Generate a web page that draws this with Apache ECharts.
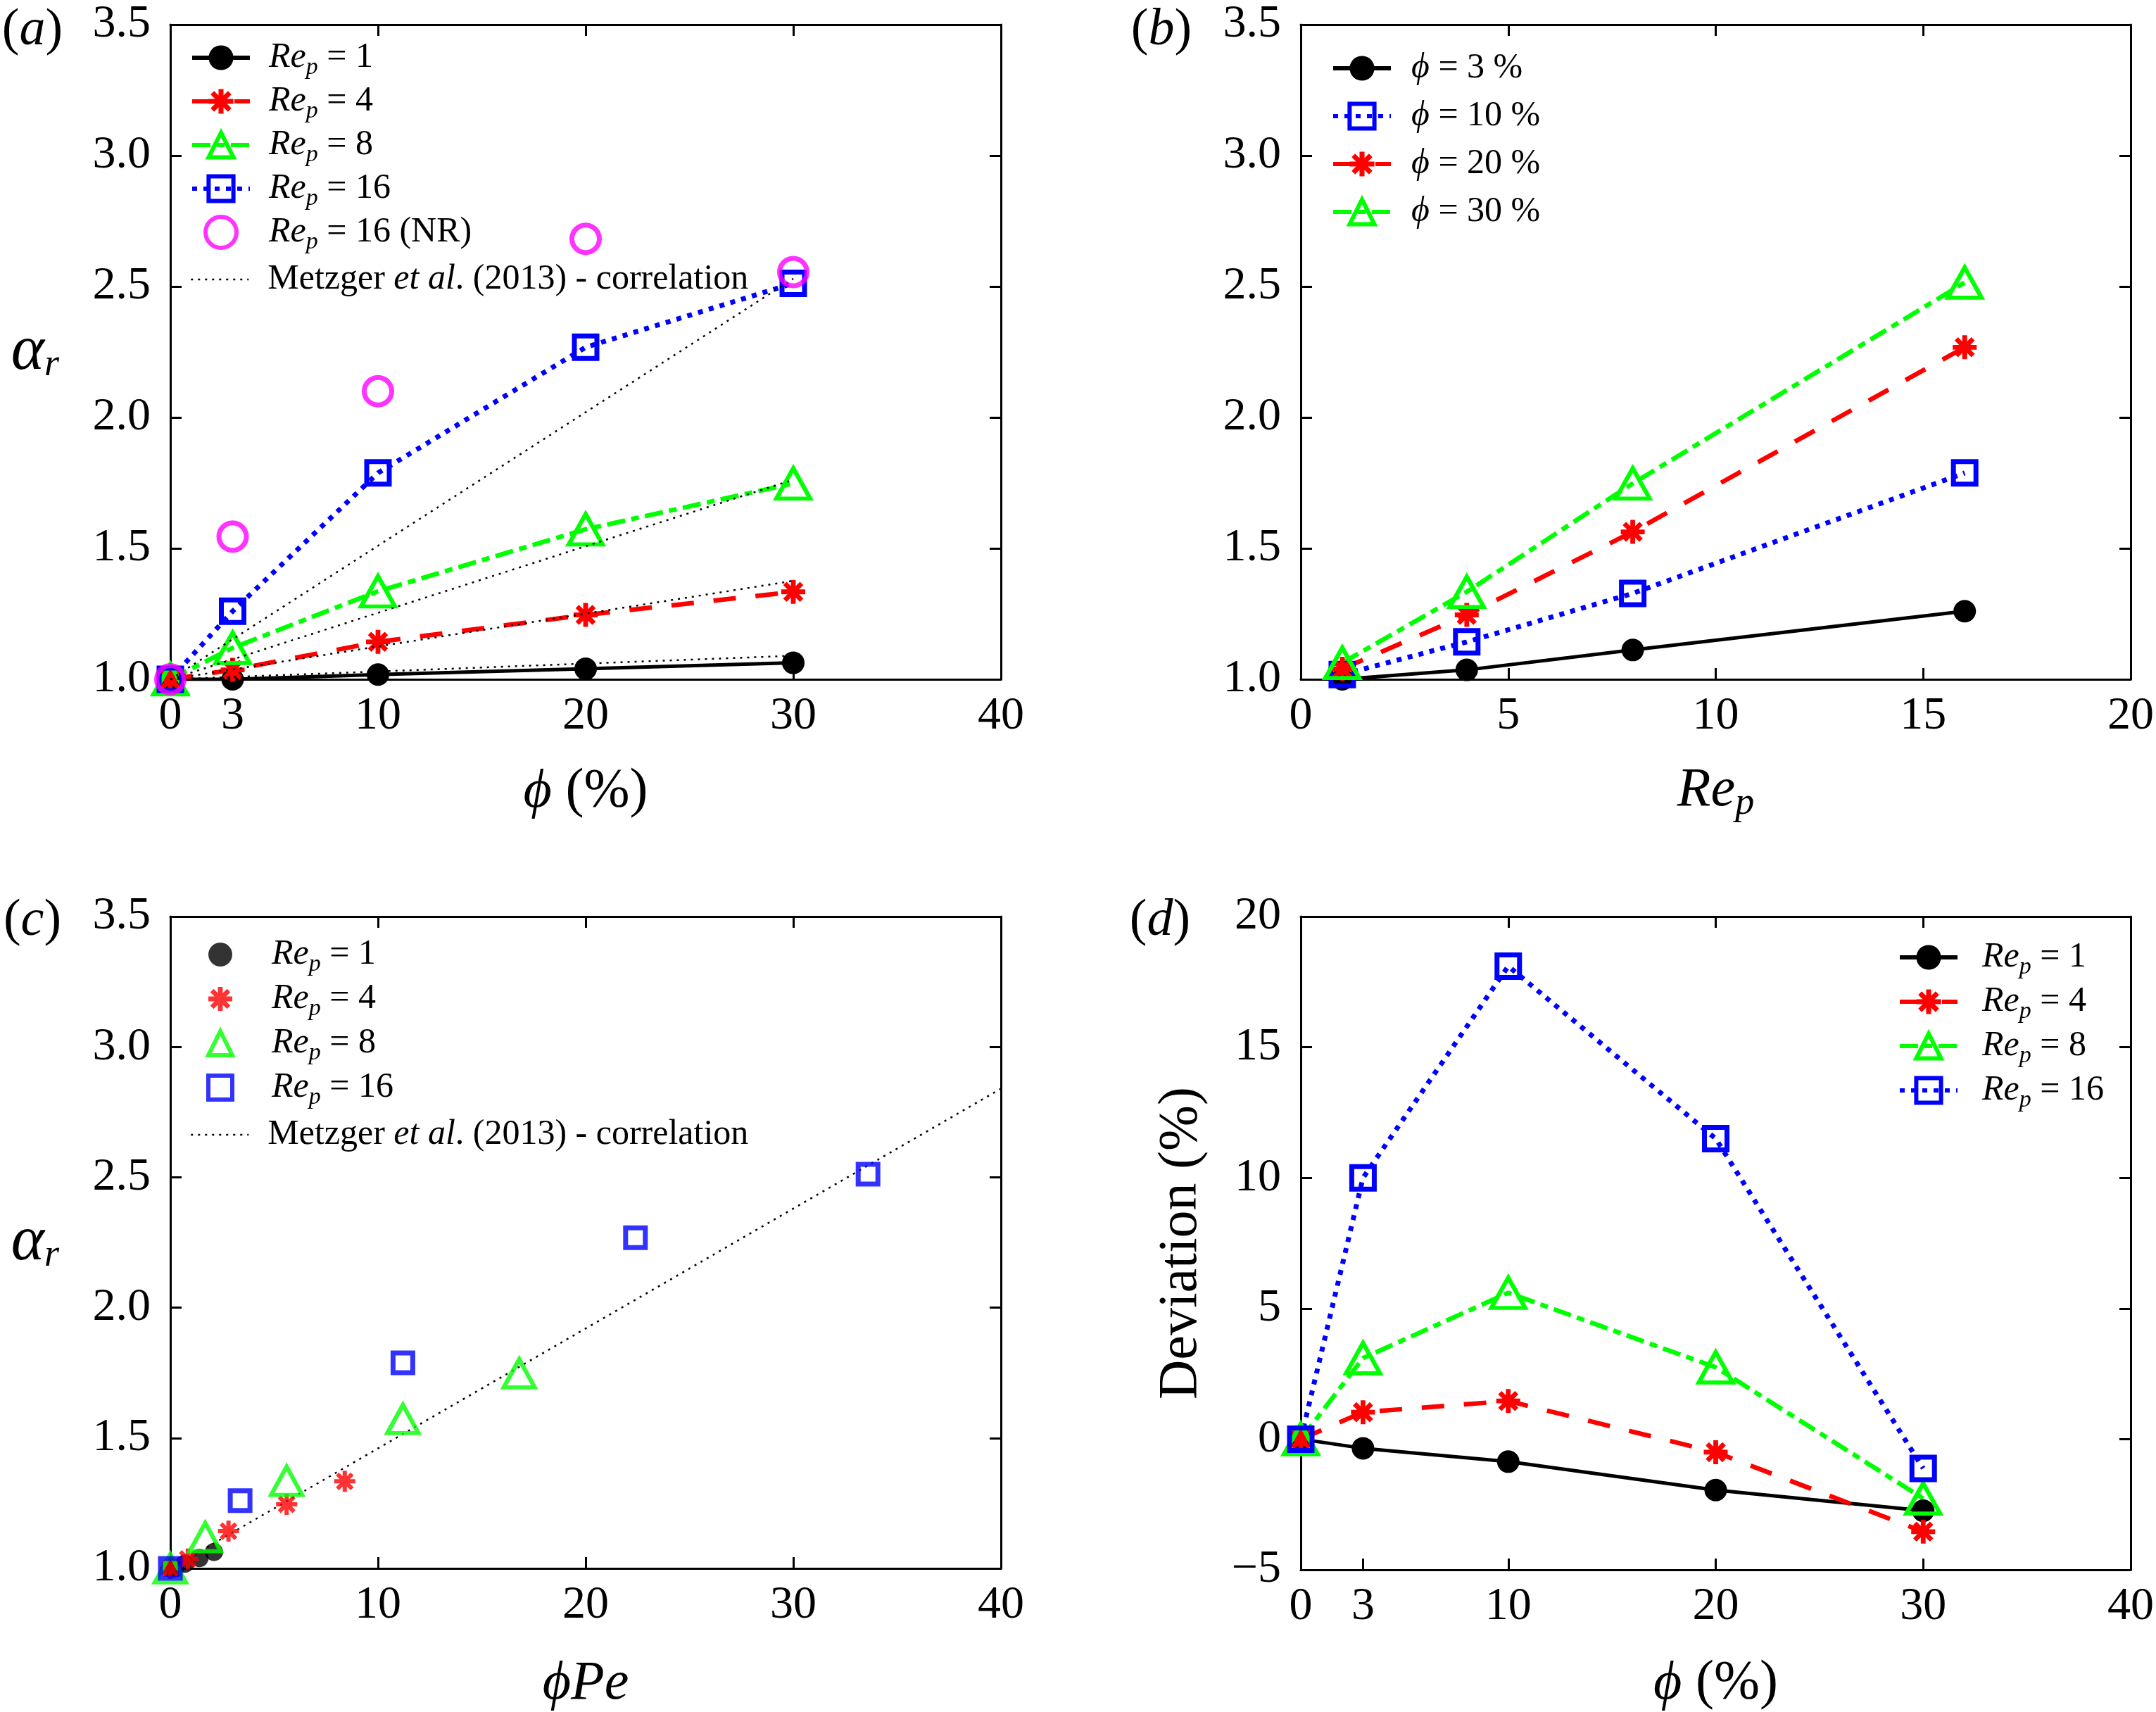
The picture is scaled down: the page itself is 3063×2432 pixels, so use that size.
<!DOCTYPE html>
<html><head><meta charset="utf-8">
<script src="https://cdn.jsdelivr.net/npm/echarts@6/dist/echarts.min.js"></script>
<style>html,body{margin:0;padding:0;background:#fff}#c{width:3063px;height:2432px}</style>
</head><body><div id="c"></div>
<script>
const SERIF = "Liberation Serif, DejaVu Serif, serif";

// ---------- Panel (a): alpha_r vs phi (%) ----------
const phiPct = [0, 3, 10, 20, 30];
const aRe1 = [1.0, 1.0, 1.018, 1.04, 1.063];
const aRe4 = [1.0, 1.036, 1.143, 1.246, 1.334];
const aRe8 = [1.0, 1.12, 1.336, 1.573, 1.748];
const aRe16 = [1.0, 1.26, 1.788, 2.268, 2.512];
const aRe16NR = [1.0, 1.545, 2.10, 2.682, 2.555];
const corrPhi = [0, 30];
const corrRe1 = [1.0, 1.09];
const corrRe4 = [1.0, 1.376];
const corrRe8 = [1.0, 1.762];
const corrRe16 = [1.0, 2.53];

// ---------- Panel (b): alpha_r vs Re_p ----------
const reP = [1, 4, 8, 16];
const bPhi3 = [1.0, 1.036, 1.112, 1.26];
const bPhi10 = [1.018, 1.143, 1.328, 1.788];
const bPhi20 = [1.04, 1.246, 1.563, 2.268];
const bPhi30 = [1.063, 1.334, 1.748, 2.515];

// ---------- Panel (c): alpha_r vs phi*Pe ----------
const cPeRe1 = [0, 0.21, 0.7, 1.4, 2.1];
const cAlRe1 = [1.0, 1.0, 1.018, 1.04, 1.063];
const cPeRe4 = [0, 0.84, 2.8, 5.6, 8.4];
const cAlRe4 = [1.0, 1.036, 1.143, 1.246, 1.334];
const cPeRe8 = [0, 1.68, 5.6, 11.2, 16.8];
const cAlRe8 = [1.0, 1.12, 1.336, 1.573, 1.748];
const cPeRe16 = [0, 3.36, 11.2, 22.4, 33.6];
const cAlRe16 = [1.0, 1.26, 1.788, 2.268, 2.512];
const cCorrX = [0, 40];
const cCorrY = [1.0, 2.84];

// ---------- Panel (d): deviation (%) vs phi (%) ----------
const devRe1 = [0, -0.35, -0.86, -1.95, -2.74];
const devRe4 = [0, 1.03, 1.46, -0.5, -3.54];
const devRe8 = [0, 3.1, 5.6, 2.75, -2.27];
const devRe16 = [0, 10.0, 18.1, 11.5, -1.12];

// ---------- Tick labels ----------
const phiTickVals = [0, 3, 10, 20, 30, 40];
const phiTickLabels = ['0', '3', '10', '20', '30', '40'];
const alphaTickVals = [1.0, 1.5, 2.0, 2.5, 3.0, 3.5];
const alphaTickLabels = ['1.0', '1.5', '2.0', '2.5', '3.0', '3.5'];
const reTickVals = [0, 5, 10, 15, 20];
const reTickLabels = ['0', '5', '10', '15', '20'];
const pePhiTickVals = [0, 10, 20, 30, 40];
const pePhiTickLabels = ['0', '10', '20', '30', '40'];
const devTickVals = [-5, 0, 5, 10, 15, 20];
const devTickLabels = ['\u22125', '0', '5', '10', '15', '20'];

// ---------- styling ----------
const ASTER = 'path://M0 8L20 8L20 12L0 12ZM8 0L12 0L12 20L8 20ZM1.59 4.41L4.41 1.59L18.41 15.59L15.59 18.41ZM15.59 1.59L18.41 4.41L4.41 18.41L1.59 15.59Z';
const ST = {
  re1: {symbol: 'circle', size: 32, item: {color: '#000', borderWidth: 0}, line: {color: '#000', width: 5, type: 'solid'}},
  re4: {symbol: ASTER, size: 34, item: {color: '#ff0000', borderWidth: 0}, line: {color: '#ff0000', width: 6.5, type: [32, 28]}},
  re8: {symbol: 'triangle', size: [48, 43], item: {color: 'transparent', borderColor: '#00ff00', borderWidth: 6}, line: {color: '#00ff00', width: 6.5, type: [26, 9, 11, 9]}},
  re16: {symbol: 'rect', size: 32, item: {color: 'transparent', borderColor: '#0000ff', borderWidth: 7}, line: {color: '#0000ff', width: 7, type: [7, 9]}},
  nr: {symbol: 'circle', size: 39, item: {color: 'transparent', borderColor: '#ff00ff', borderWidth: 7}},
  corr: {symbol: 'none', size: 0, item: {color: 'transparent', borderWidth: 0}, line: {color: '#000', width: 2.5, type: [3, 7]}}
};

function lbl(vals, labels) {
  return v => { const i = vals.findIndex(t => Math.abs(t - v) < 1e-9); return i >= 0 ? '{t|' + labels[i] + '}' : ''; };
}
const tickRich = {t: {fontFamily: SERIF, fontSize: 66, color: '#000'}};
const AXLINE = {show: true, onZero: false, lineStyle: {color: '#000', width: 3}};
function tick(vals) { return {show: true, inside: true, length: 16, lineStyle: {color: '#000', width: 3}, customValues: vals}; }
const nameRich = {
  i: {fontFamily: SERIF, fontStyle: 'italic', fontSize: 78, color: '#000', lineHeight: 92},
  n: {fontFamily: SERIF, fontSize: 78, color: '#000', lineHeight: 92},
  g: {fontFamily: SERIF, fontStyle: 'italic', fontSize: 90, color: '#000', lineHeight: 92},
  s: {fontFamily: SERIF, fontStyle: 'italic', fontSize: 54, color: '#000', lineHeight: 54, padding: [38, 0, 0, 0]}
};
function xPair(g, min, max, interval, labVals, labTexts, botTicks, topTicks, name, gap) {
  return [{
    gridIndex: g, type: 'value', position: 'bottom', min, max, interval,
    axisLine: AXLINE, axisTick: tick(botTicks), splitLine: {show: false},
    axisLabel: {show: true, margin: 20, customValues: labVals, formatter: lbl(labVals, labTexts),
      fontFamily: SERIF, fontSize: 66, color: '#000', rich: tickRich},
    name, nameLocation: 'middle', nameGap: gap, nameTextStyle: {fontFamily: SERIF, rich: nameRich}
  }, {
    gridIndex: g, type: 'value', position: 'top', min, max, interval,
    axisLine: AXLINE, axisTick: tick(topTicks), axisLabel: {show: false}, splitLine: {show: false}
  }];
}
function yPair(g, min, max, interval, labVals, labTexts, ticks, name, nameGap, nameRotate, nameStyle) {
  return [{
    gridIndex: g, type: 'value', position: 'left', min, max, interval,
    axisLine: AXLINE, axisTick: tick(ticks), splitLine: {show: false},
    axisLabel: {show: true, margin: 28, customValues: labVals, formatter: lbl(labVals, labTexts),
      fontFamily: SERIF, fontSize: 66, color: '#000', rich: tickRich},
    name, nameLocation: 'middle', nameGap, nameRotate, nameTextStyle: nameStyle
  }, {
    gridIndex: g, type: 'value', position: 'right', min, max, interval,
    axisLine: AXLINE, axisTick: tick(ticks), axisLabel: {show: false}, splitLine: {show: false}
  }];
}

function mk(type, name, g, xs, ys, st, z) {
  const s = {
    type, name, xAxisIndex: 2 * g, yAxisIndex: 2 * g,
    data: xs.map((x, i) => [x, ys[i]]),
    symbol: st.symbol, symbolSize: st.size, itemStyle: st.item,
    emphasis: {disabled: true}, animation: false, z: z || 2
  };
  if (type === 'line') { s.lineStyle = st.line; s.showAllSymbol = true; }
  return s;
}

const series = [
  // (a)
  mk('line', 'aC', 0, corrPhi, corrRe1, ST.corr, 3),
  mk('line', 'aC', 0, corrPhi, corrRe4, ST.corr, 3),
  mk('line', 'aC', 0, corrPhi, corrRe8, ST.corr, 3),
  mk('line', 'aC', 0, corrPhi, corrRe16, ST.corr, 3),
  mk('line', 'a1', 0, phiPct, aRe1, ST.re1),
  mk('line', 'a4', 0, phiPct, aRe4, ST.re4),
  mk('line', 'a8', 0, phiPct, aRe8, ST.re8),
  mk('line', 'a16', 0, phiPct, aRe16, ST.re16),
  mk('scatter', 'aNR', 0, phiPct, aRe16NR, ST.nr, 4),
  // (b)
  mk('line', 'b3', 1, reP, bPhi3, ST.re1),
  mk('line', 'b10', 1, reP, bPhi10, ST.re16),
  mk('line', 'b20', 1, reP, bPhi20, ST.re4),
  mk('line', 'b30', 1, reP, bPhi30, ST.re8),
  // (c)
  mk('line', 'cC', 2, cCorrX, cCorrY, ST.corr, 1),
  mk('scatter', 'c1', 2, cPeRe1, cAlRe1, Object.assign({}, ST.re1, {size: 26})),
  mk('scatter', 'c4', 2, cPeRe4, cAlRe4, Object.assign({}, ST.re4, {size: 30})),
  mk('scatter', 'c8', 2, cPeRe8, cAlRe8, Object.assign({}, ST.re8, {size: [44, 40]})),
  mk('scatter', 'c16', 2, cPeRe16, cAlRe16, Object.assign({}, ST.re16, {size: 28})),
  // (d)
  mk('line', 'd1', 3, phiPct, devRe1, ST.re1),
  mk('line', 'd4', 3, phiPct, devRe4, ST.re4),
  mk('line', 'd8', 3, phiPct, devRe8, ST.re8),
  mk('line', 'd16', 3, phiPct, devRe16, ST.re16)
];

const legendText = {
  a1: '{i|Re}{s|p}{n| = 1}', a4: '{i|Re}{s|p}{n| = 4}', a8: '{i|Re}{s|p}{n| = 8}', a16: '{i|Re}{s|p}{n| = 16}',
  aNR: '{i|Re}{s|p}{n| = 16 (NR)}', aC: '{n|Metzger }{i|et al}{n|. (2013) - correlation}',
  b3: '{i|\u03d5}{n| = 3 %}', b10: '{i|\u03d5}{n| = 10 %}', b20: '{i|\u03d5}{n| = 20 %}', b30: '{i|\u03d5}{n| = 30 %}',
  c1: '{i|Re}{s|p}{n| = 1}', c4: '{i|Re}{s|p}{n| = 4}', c8: '{i|Re}{s|p}{n| = 8}', c16: '{i|Re}{s|p}{n| = 16}',
  cC: '{n|Metzger }{i|et al}{n|. (2013) - correlation}',
  d1: '{i|Re}{s|p}{n| = 1}', d4: '{i|Re}{s|p}{n| = 4}', d8: '{i|Re}{s|p}{n| = 8}', d16: '{i|Re}{s|p}{n| = 16}'
};
const legRich = {
  i: {fontFamily: SERIF, fontStyle: 'italic', fontSize: 50, lineHeight: 62, color: '#000'},
  n: {fontFamily: SERIF, fontSize: 50, lineHeight: 62, color: '#000'},
  s: {fontFamily: SERIF, fontStyle: 'italic', fontSize: 34, lineHeight: 34, padding: [28, 0, 0, 0], color: '#000'}
};
function legend(names, left, top, gap, padLeft, iw, ih, extra) {
  return {
    orient: 'vertical', left, top, padding: 0, itemGap: gap, itemWidth: iw, itemHeight: ih,
    selectedMode: false,
    data: names.map(n => Object.assign({name: n}, (extra && extra[n]) || {})),
    formatter: n => legendText[n],
    lineStyle: {width: 6}, itemStyle: {borderWidth: 6},
    textStyle: {fontFamily: SERIF, rich: legRich, padding: [0, 0, 0, padLeft]}
  };
}
const noB = {itemStyle: {borderWidth: 0}};
const thin = {lineStyle: {width: 2.5}, itemStyle: {borderWidth: 0}};

const option = {
  backgroundColor: '#fff',
  animation: false,
  textStyle: {fontFamily: SERIF},
  grid: [
    {left: 242, top: 35, width: 1180, height: 930},
    {left: 1848, top: 35, width: 1180, height: 930},
    {left: 242, top: 1302, width: 1180, height: 928},
    {left: 1848, top: 1302, width: 1180, height: 928}
  ],
  xAxis: [].concat(
    xPair(0, 0, 40, 10, phiTickVals, phiTickLabels, [3, 10, 20, 30], [10, 20, 30], '{i|\u03d5}{n| (%)}', 114),
    xPair(1, 0, 20, 5, reTickVals, reTickLabels, [5, 10, 15], [5, 10, 15], '{i|Re}{s|p}', 112),
    xPair(2, 0, 40, 10, pePhiTickVals, pePhiTickLabels, [10, 20, 30], [10, 20, 30], '{i|\u03d5Pe}', 118),
    xPair(3, 0, 40, 10, phiTickVals, phiTickLabels, [3, 10, 20, 30], [10, 20, 30], '{i|\u03d5}{n| (%)}', 116)
  ),
  yAxis: [].concat(
    yPair(0, 1, 3.5, 0.5, alphaTickVals, alphaTickLabels, [1.5, 2.0, 2.5, 3.0], '{g|\u03b1}{s|r}', 158, 0, {fontFamily: SERIF, rich: nameRich}),
    yPair(1, 1, 3.5, 0.5, alphaTickVals, alphaTickLabels, [1.5, 2.0, 2.5, 3.0], '', 150, 0, {}),
    yPair(2, 1, 3.5, 0.5, alphaTickVals, alphaTickLabels, [1.5, 2.0, 2.5, 3.0], '{g|\u03b1}{s|r}', 158, 0, {fontFamily: SERIF, rich: nameRich}),
    yPair(3, -5, 20, 5, devTickVals, devTickLabels, [0, 5, 10, 15], 'Deviation (%)', 130, 90,
      {fontFamily: SERIF, fontSize: 78, color: '#000'})
  ),
  legend: [
    legend(['a1', 'a4', 'a8', 'a16', 'aNR'], 270, 51, 0, 22, 82, 44, {a1: noB, a4: noB}),
    legend(['aC'], 270, 372, 0, 22, 82, 34, {aC: thin}),
    legend(['b3', 'b10', 'b20', 'b30'], 1891, 72, 18, 24, 82, 44, {b3: noB, b20: noB}),
    legend(['c1', 'c4', 'c8', 'c16'], 293, 1325, 1, 51, 34, 34, {c1: noB, c4: noB}),
    legend(['cC'], 270, 1587, 0, 22, 82, 34, {cC: thin}),
    legend(['d1', 'd4', 'd8', 'd16'], 2696, 1329, 1, 30, 82, 44, {d1: noB, d4: noB})
  ],
  graphic: [['a', 46, 44], ['b', 1650, 44], ['c', 46, 1309], ['d', 1648, 1309]].map(p => ({
    type: 'text', x: p[1], y: p[2],
    style: {
      text: '{p|(}{q|' + p[0] + '}{p|)}',
      rich: {
        p: {fontFamily: SERIF, fontSize: 74, fill: '#000', color: '#000'},
        q: {fontFamily: SERIF, fontStyle: 'italic', fontSize: 74, fill: '#000', color: '#000'}
      },
      align: 'center', verticalAlign: 'middle', textAlign: 'center', textVerticalAlign: 'middle'
    }
  })),
  series
};
const chart = echarts.init(document.getElementById('c'), null, {renderer: 'canvas'});
chart.setOption(option);
</script></body></html>
